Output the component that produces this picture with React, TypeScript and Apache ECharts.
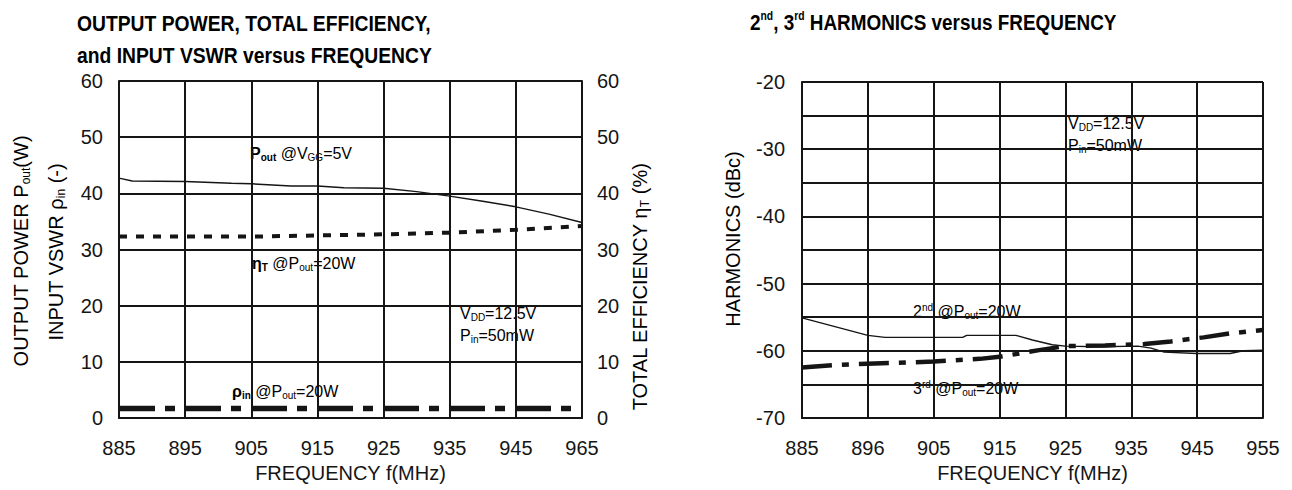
import React, { useEffect, useRef } from "react";
import * as echarts from "echarts";

// ---- tick labels (as printed on the datasheet) ----
const leftFreqTicks = ["885", "895", "905", "915", "925", "935", "945", "965"];
const rightFreqTicks = ["885", "896", "905", "915", "925", "935", "945", "955"];

// ---- left chart: output power (W) ----
const poutFreq = [885, 887, 895, 902, 905, 911, 915, 919, 925, 930, 935, 940, 945, 950, 955];
const poutW = [42.7, 42.2, 42.1, 41.8, 41.7, 41.3, 41.3, 41.0, 40.9, 40.3, 39.5, 38.6, 37.6, 36.3, 34.8];

// ---- left chart: total efficiency (%) ----
const effFreq = [885, 895, 905, 915, 925, 935, 945, 955];
const effPct = [32.3, 32.3, 32.3, 32.5, 32.7, 33.0, 33.5, 34.2];

// ---- left chart: input VSWR (-) ----
const vswrFreq = [885, 905, 925, 945, 955];
const vswrVal = [1.7, 1.7, 1.7, 1.7, 1.7];

// ---- right chart: 2nd harmonic (dBc) ----
const h2Freq = [885, 890, 895, 897.6, 909.4, 910, 917.5, 920, 923, 925, 930, 936, 938, 940, 945, 950, 952, 955];
const h2Val = [-55.1, -56.4, -57.7, -58.0, -58.0, -57.7, -57.7, -58.4, -59.1, -59.3, -59.4, -59.3, -59.6, -60.2, -60.4, -60.4, -60.0, -59.9];

// ---- right chart: 3rd harmonic (dBc) ----
const h3Freq = [885, 890, 896, 905, 912, 915, 921, 925, 931, 937, 941, 946, 950, 955];
const h3Val = [-62.5, -62.1, -61.9, -61.6, -61.2, -60.9, -59.9, -59.3, -59.2, -59.0, -58.6, -58.0, -57.4, -56.9];

const FONT = '"Liberation Sans", Arial, sans-serif';
const INK = "#151515";

function pairs(xs: number[], ys: number[]) {
  return xs.map((x, i) => [x, ys[i]]);
}

export default function App() {
  const ref = useRef<HTMLDivElement>(null);

  useEffect(() => {
    if (!ref.current) return;
    const chart = echarts.init(ref.current, null, { renderer: "svg" });

    const gridLine = { show: true, lineStyle: { color: INK, width: 2 } };
    const axisLine = { show: true, lineStyle: { color: INK, width: 2 } };
    const tickLabel = { color: INK, fontSize: 20, fontFamily: FONT };
    const nameStyle = { color: INK, fontSize: 20, fontFamily: FONT };

    const xAxis = (labels: string[], gridIndex: number) => ({
      type: "value",
      gridIndex,
      min: 885,
      max: 955,
      interval: 10,
      axisLine,
      axisTick: { show: false },
      splitLine: gridLine,
      axisLabel: {
        ...tickLabel,
        margin: 20,
        formatter: (v: number) => labels[Math.round((v - 885) / 10)] ?? "",
      },
      name: "FREQUENCY f(MHz)",
      nameLocation: "middle",
      nameGap: 45,
      nameTextStyle: nameStyle,
    });

    const rich = {
      m: { fontSize: 16, fontFamily: FONT, color: "#222", lineHeight: 18 },
      mb: { fontSize: 16, fontFamily: FONT, color: "#111", fontWeight: "bold", lineHeight: 18 },
      s: { fontSize: 10, fontFamily: FONT, color: "#222", lineHeight: 8, verticalAlign: "bottom" },
      sb: { fontSize: 10, fontFamily: FONT, color: "#111", fontWeight: "bold", lineHeight: 8, verticalAlign: "bottom" },
      su: { fontSize: 10, fontFamily: FONT, color: "#222", lineHeight: 10, verticalAlign: "top" },
    };
    const note = (x: number, y: number, text: string) => ({
      type: "text",
      x,
      y,
      silent: true,
      style: { text, rich, verticalAlign: "middle", align: "left" },
    });

    const nameRich = {
      n: { fontSize: 20, fontFamily: FONT, color: INK, lineHeight: 22 },
      ns: { fontSize: 12, fontFamily: FONT, color: INK, lineHeight: 10, verticalAlign: "bottom" },
    };
    const vname = (x: number, y: number, text: string) => ({
      type: "text",
      x,
      y,
      rotation: Math.PI / 2,
      silent: true,
      style: { text, rich: nameRich, align: "center", verticalAlign: "middle" },
    });

    const titleRich = {
      t: { fontSize: 22, fontFamily: FONT, fontWeight: "bold", color: "#111", lineHeight: 24 },
      sup: { fontSize: 12, fontFamily: FONT, fontWeight: "bold", color: "#111", lineHeight: 11, verticalAlign: "top" },
    };
    const title = (x: number, y: number, sx: number, text: string) => ({
      type: "text",
      x,
      y,
      scaleX: sx,
      silent: true,
      style: { text, rich: titleRich, align: "left", verticalAlign: "middle" },
    });

    const option = {
      animation: false,
      backgroundColor: "#ffffff",
      grid: [
        { left: 119, top: 81, width: 463, height: 337, containLabel: false },
        { left: 802, top: 82, width: 461, height: 336, containLabel: false },
      ],
      xAxis: [xAxis(leftFreqTicks, 0), xAxis(rightFreqTicks, 1)],
      yAxis: [
        {
          type: "value",
          gridIndex: 0,
          min: 0,
          max: 60,
          interval: 10,
          axisLine,
          axisTick: { show: false },
          splitLine: gridLine,
          axisLabel: { ...tickLabel, margin: 16 },
        },
        {
          type: "value",
          gridIndex: 0,
          position: "right",
          min: 0,
          max: 60,
          interval: 10,
          axisLine,
          axisTick: { show: false },
          splitLine: { show: false },
          axisLabel: { ...tickLabel, margin: 15 },
        },
        {
          type: "value",
          gridIndex: 1,
          min: -70,
          max: -20,
          interval: 5,
          axisLine,
          axisTick: { show: false },
          splitLine: gridLine,
          axisLabel: {
            ...tickLabel,
            margin: 17,
            formatter: (v: number) => (Math.round(v) % 10 === 0 ? String(v) : ""),
          },
        },
      ],
      series: [
        {
          name: "Pout",
          type: "line",
          xAxisIndex: 0,
          yAxisIndex: 0,
          data: pairs(poutFreq, poutW),
          symbol: "none",
          silent: true,
          lineStyle: { color: INK, width: 1.4 },
        },
        {
          name: "etaT",
          type: "line",
          xAxisIndex: 0,
          yAxisIndex: 1,
          data: pairs(effFreq, effPct),
          symbol: "none",
          silent: true,
          lineStyle: { color: INK, width: 4, type: [8, 9] },
        },
        {
          name: "rho_in",
          type: "line",
          xAxisIndex: 0,
          yAxisIndex: 0,
          data: pairs(vswrFreq, vswrVal),
          symbol: "none",
          silent: true,
          lineStyle: { color: INK, width: 5.5, type: [36, 10, 10, 10] },
        },
        {
          name: "2nd",
          type: "line",
          xAxisIndex: 1,
          yAxisIndex: 2,
          data: pairs(h2Freq, h2Val),
          symbol: "none",
          silent: true,
          lineStyle: { color: INK, width: 1.4 },
        },
        {
          name: "3rd",
          type: "line",
          xAxisIndex: 1,
          yAxisIndex: 2,
          data: pairs(h3Freq, h3Val),
          symbol: "none",
          silent: true,
          lineStyle: { color: INK, width: 4.5, type: [30, 10, 7, 10] },
        },
      ],
      graphic: [
        title(77, 23, 0.877, "{t|OUTPUT POWER, TOTAL EFFICIENCY,}"),
        title(77, 55, 0.877, "{t|and INPUT VSWR versus FREQUENCY}"),
        title(750, 22, 0.86, "{t|2}{sup|nd}{t|, 3}{sup|rd}{t| HARMONICS versus FREQUENCY}"),
        vname(21, 251, "{n|OUTPUT POWER P}{ns|out}{n|(W)}"),
        vname(56, 252, "{n|INPUT VSWR ρ}{ns|in}{n| (-)}"),
        vname(640, 287, "{n|TOTAL EFFICIENCY η}{ns|T}{n| (%)}"),
        vname(733, 239, "{n|HARMONICS (dBc)}"),
        note(250, 153, "{mb|P}{sb|out}{m| @V}{s|GG}{m|=5V}"),
        note(252, 263, "{mb|η}{sb|T}{m| @P}{s|out}{m|=20W}"),
        note(460, 313, "{m|V}{s|DD}{m|=12.5V}"),
        note(460, 335, "{m|P}{s|in}{m|=50mW}"),
        note(232, 391, "{mb|ρ}{sb|in}{m| @P}{s|out}{m|=20W}"),
        note(1068, 123, "{m|V}{s|DD}{m|=12.5V}"),
        note(1068, 145, "{m|P}{s|in}{m|=50mW}"),
        note(913, 311, "{m|2}{su|nd}{m| @P}{s|out}{m|=20W}"),
        note(913, 388, "{m|3}{su|rd}{m| @P}{s|out}{m|=20W}"),
      ],
    };

    chart.setOption(option as any);
    return () => {
      chart.dispose();
    };
  }, []);

  return (
    <div
      ref={ref}
      style={{
        position: "absolute",
        left: 0,
        top: 0,
        width: 1292,
        height: 490,
        background: "#ffffff",
      }}
    />
  );
}
